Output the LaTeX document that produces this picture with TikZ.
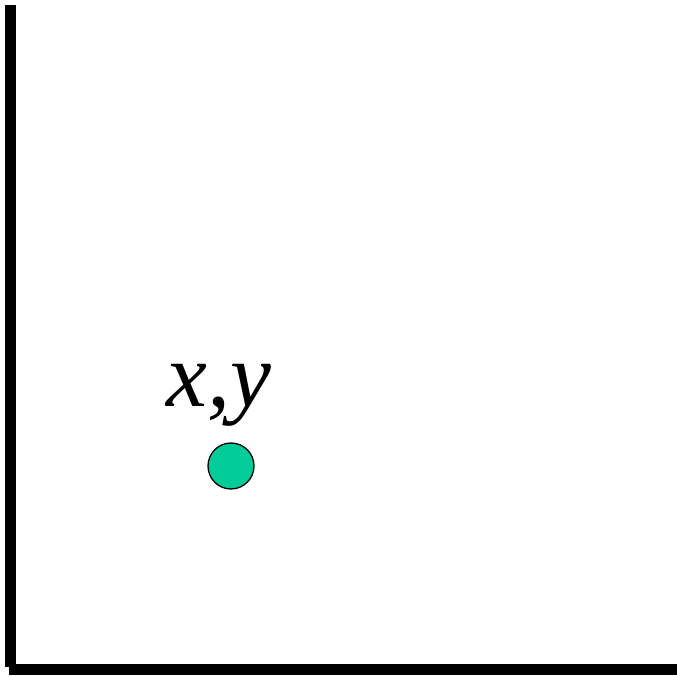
\documentclass[tikz,border=0pt]{standalone}
\usepackage{fontspec}
\setmainfont{Liberation Serif}
\usepackage{tikz}
\usetikzlibrary{positioning}
\definecolor{ptgreen}{RGB}{0,204,153}
\tikzset{
  axisline/.style={line width=11pt, color=black},
  dotnode/.style={circle, draw=black, fill=ptgreen, line width=1.3pt,
    minimum size=46pt, inner sep=0pt},
  labelnode/.style={font=\fontsize{92}{94}\selectfont\itshape, inner sep=0pt}
}
\begin{document}
\begin{tikzpicture}[x=1pt, y=1pt]
  \useasboundingbox (0,0) rectangle (677,677);
  % axes
  \coordinate (ytop) at (10,672);
  \coordinate (origin) at (10,7);
  \coordinate (xend) at (677,7);
  \draw[axisline] (ytop) -- (10,10);
  \draw[axisline] (9,7) -- (xend);
  % point and its label
  \node[dotnode] (pt) at (231,211) {};
  \node[labelnode, anchor=base] (lbl) at (219,270) {x,y};
\end{tikzpicture}
\end{document}
